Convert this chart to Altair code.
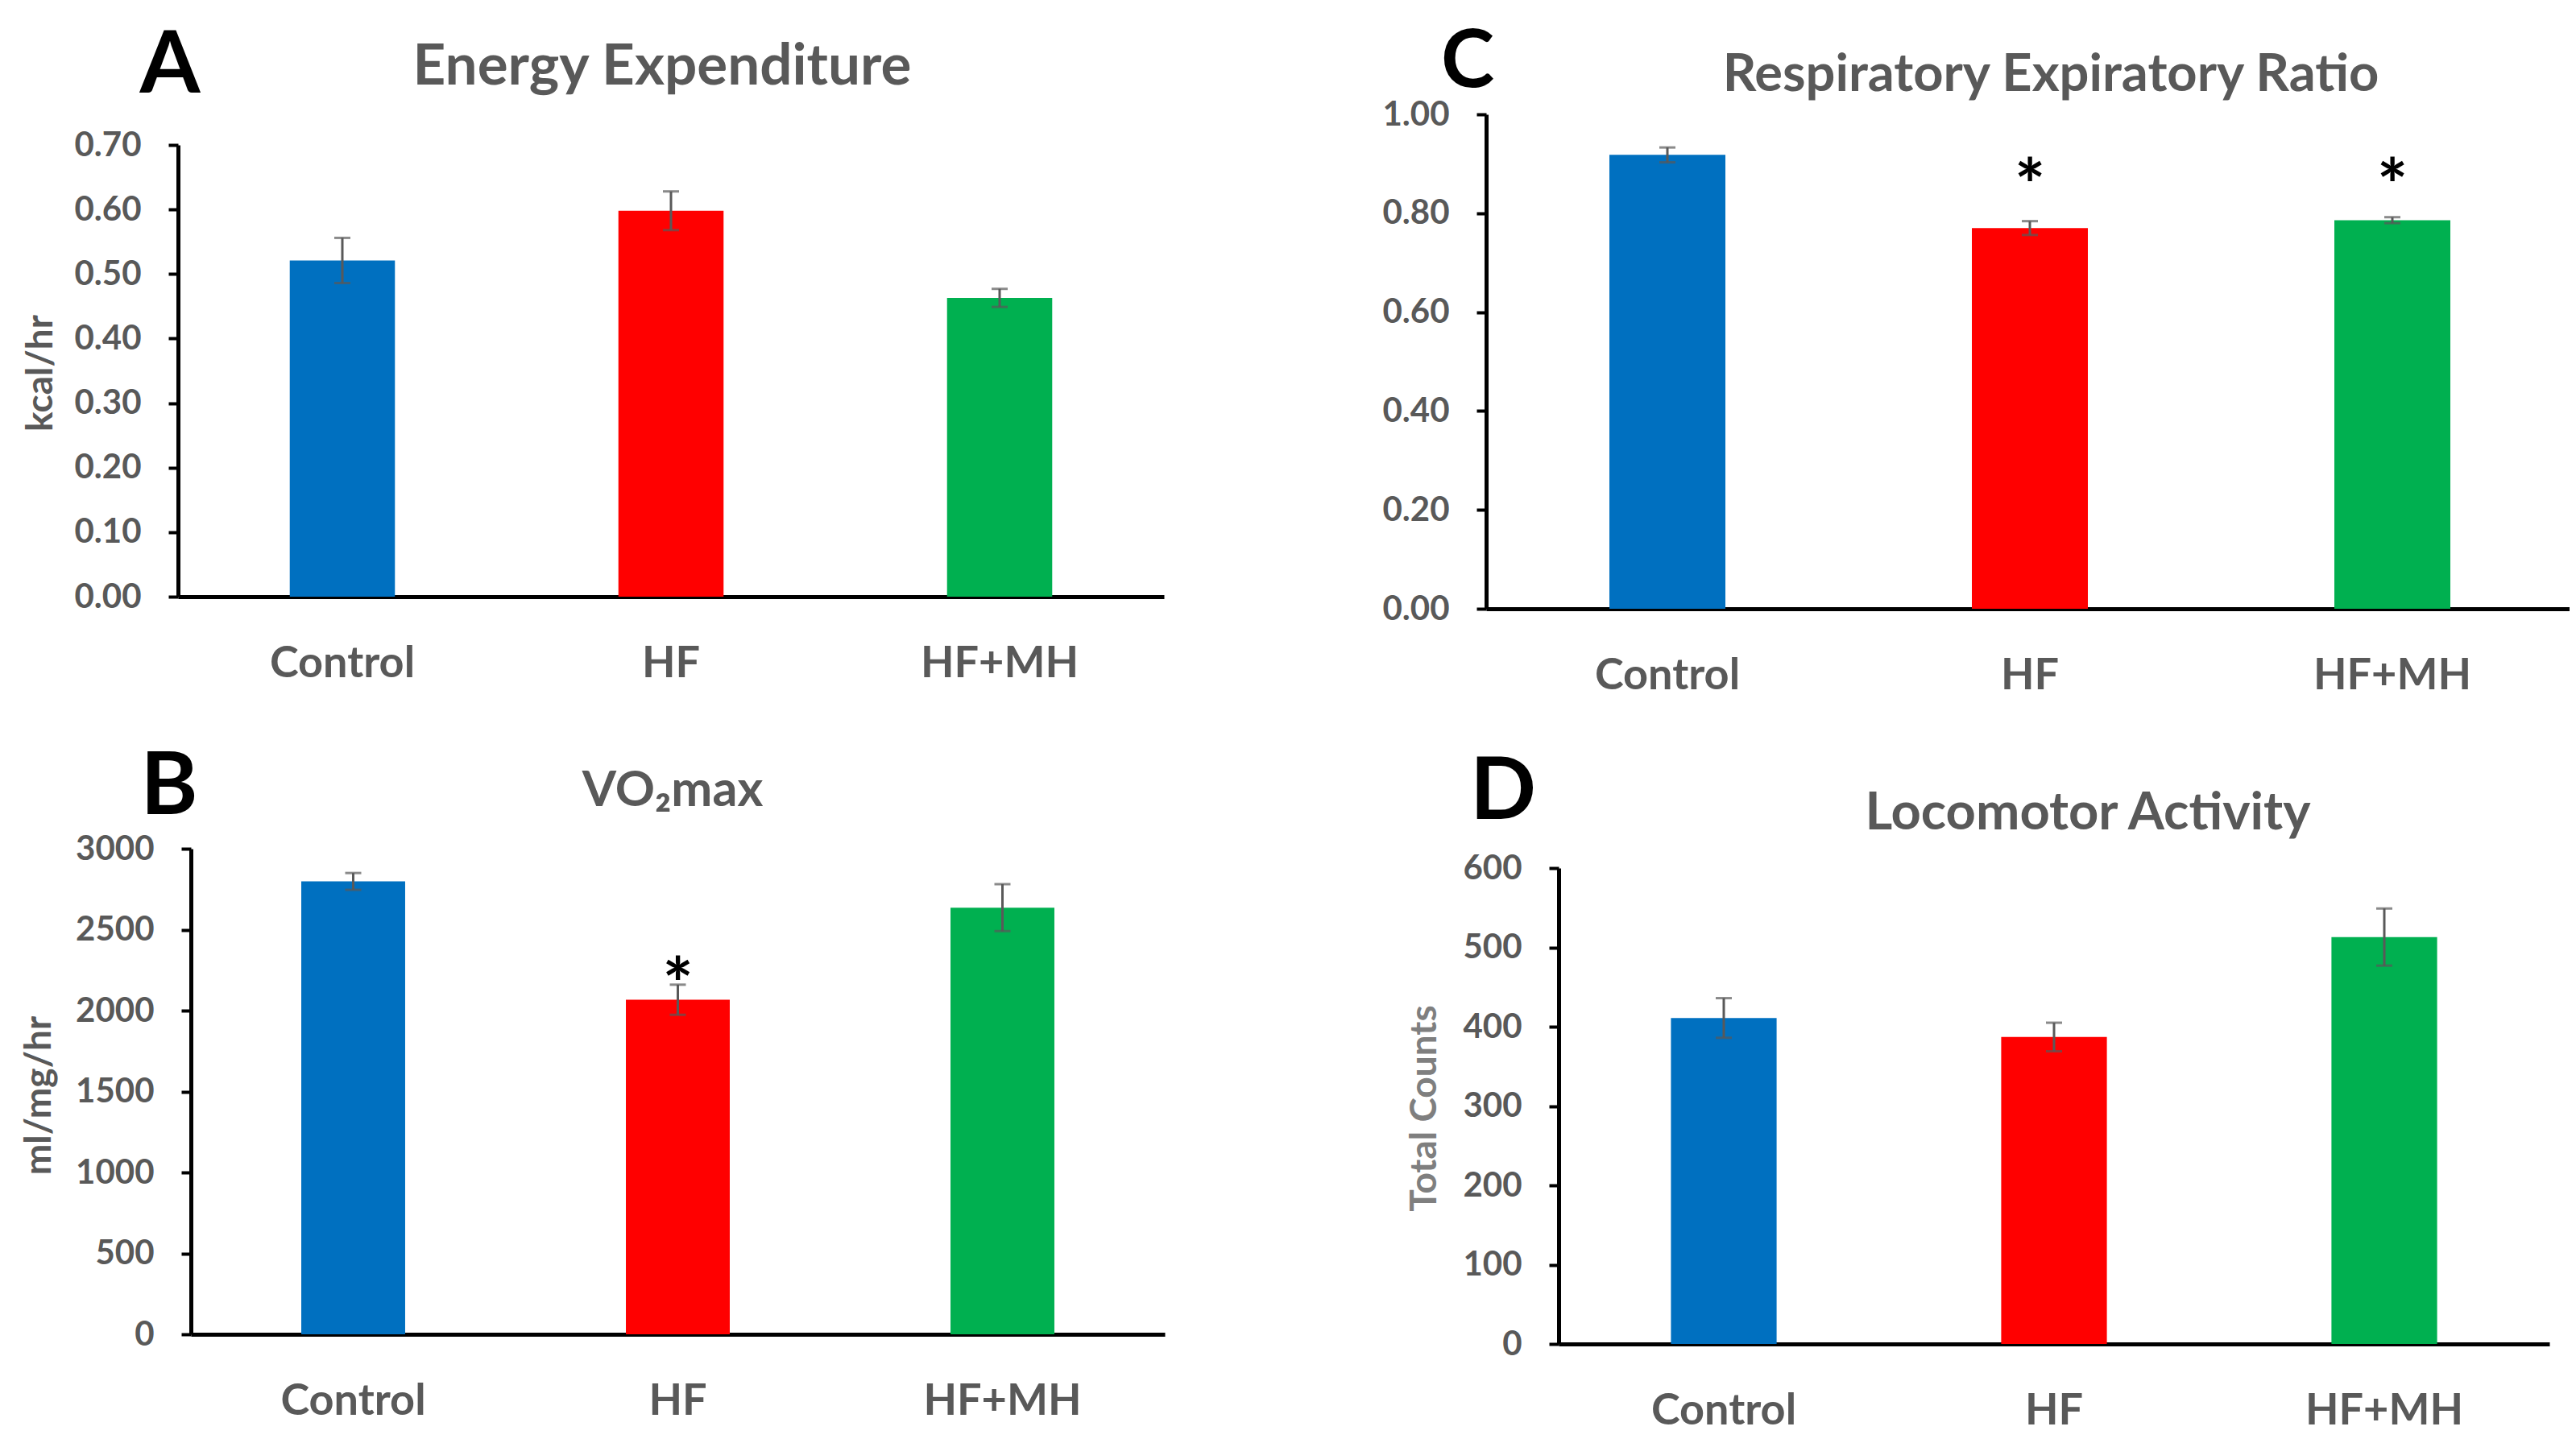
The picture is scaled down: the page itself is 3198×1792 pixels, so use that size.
import altair as alt
import pandas as pd

cats = ["Control", "HF", "HF+MH"]
colors = ["#0070C0", "#FF0000", "#00B050"]

# Panel A: Energy Expenditure (kcal/hr)
ee_mean = [0.521, 0.598, 0.463]
ee_err = [0.035, 0.030, 0.014]
ee_ticks = [0.0, 0.1, 0.2, 0.3, 0.4, 0.5, 0.6, 0.7]
# Panel B: VO2max (ml/mg/hr)
vo2_mean = [2798, 2067, 2636]
vo2_err = [52, 93, 145]
vo2_star = [None, 2249, None]
vo2_ticks = [0, 500, 1000, 1500, 2000, 2500, 3000]
# Panel C: Respiratory Expiratory Ratio
rer_mean = [0.918, 0.770, 0.786]
rer_err = [0.015, 0.014, 0.006]
rer_star = [None, 0.884, 0.884]
rer_ticks = [0.0, 0.2, 0.4, 0.6, 0.8, 1.0]
# Panel D: Locomotor Activity (Total Counts)
loco_mean = [411, 387, 513]
loco_err = [25, 18, 36]
loco_ticks = [0, 100, 200, 300, 400, 500, 600]

W, H = 3182, 1776
GRAY = "#595959"
FONT = "Lato"


def panel(mean, err, stars, ticks, fmt, xr, yr, ytitle, tx, ty, tcolor):
    df = pd.DataFrame({
        "cat": cats,
        "v": mean,
        "lo": [m - e for m, e in zip(mean, err)],
        "hi": [m + e for m, e in zip(mean, err)],
    })
    xs = alt.Scale(domain=cats, range=list(xr), paddingInner=0.68, paddingOuter=0.34)
    ys = alt.Scale(domain=[ticks[0], ticks[-1]], range=list(yr), nice=False)
    axx = alt.Axis(orient="bottom", offset=yr[0] - H, ticks=False, grid=False,
                   domainColor="black", domainWidth=5, labelPadding=56,
                   labelFont=FONT, labelFontSize=54, labelFontWeight="bold",
                   labelColor=GRAY, labelAngle=0, labelLimit=0)
    yax_kw = dict(orient="left", offset=-xr[0], values=ticks, format=fmt, grid=False,
                  domainColor="black", domainWidth=5, tickColor="black", tickWidth=4,
                  tickSize=12, labelPadding=34, labelFont=FONT, labelFontSize=42,
                  labelFontWeight="bold", labelColor=GRAY, labelLimit=0)
    if ytitle:
        yax_kw.update(titleX=tx, titleY=ty, titleAngle=-90, titleAlign="center",
                      titleBaseline="middle", titleFont=FONT, titleFontSize=46,
                      titleFontWeight="bold", titleColor=tcolor)
    axy = alt.Axis(**yax_kw)
    X = alt.X("cat:N", scale=xs, axis=axx, title="", sort=cats)
    color = alt.Color("cat:N", scale=alt.Scale(domain=cats, range=colors), legend=None)
    base = alt.Chart(df)
    bars = base.mark_bar().encode(x=X, y=alt.Y("v:Q", scale=ys, axis=axy, title=ytitle), color=color)
    rule = base.mark_rule(color=GRAY, strokeWidth=3).encode(
        x=X, y=alt.Y("lo:Q", scale=ys, axis=axy, title=ytitle), y2="hi:Q")
    cap_hi = base.mark_tick(color=GRAY, size=20, thickness=3).encode(
        x=X, y=alt.Y("hi:Q", scale=ys, axis=axy, title=ytitle))
    cap_lo = base.mark_tick(color=GRAY, size=20, thickness=3).encode(
        x=X, y=alt.Y("lo:Q", scale=ys, axis=axy, title=ytitle))
    layers = [bars, rule, cap_hi, cap_lo]
    if stars is not None:
        sdf = pd.DataFrame({"cat": [c for c, s in zip(cats, stars) if s is not None],
                            "s": [s for s in stars if s is not None]})
        st = alt.Chart(sdf).mark_text(text="*", font=FONT, fontSize=90, fontWeight="bold",
                                      color="black", baseline="alphabetic", dy=50).encode(
            x=X, y=alt.Y("s:Q", scale=ys, axis=axy, title=ytitle))
        layers.append(st)
    return alt.layer(*layers)


pA = panel(ee_mean, ee_err, None, ee_ticks, ".2f", (213, 1437), (733, 172),
           "kcal/hr", -171, 455, GRAY)
pB = panel(vo2_mean, vo2_err, vo2_star, vo2_ticks, "d", (229, 1438), (1649, 1046),
           "ml/mg/hr", -189, 1352, GRAY)
pC = panel(rer_mean, rer_err, rer_star, rer_ticks, ".2f", (1837, 3187), (748, 134),
           "", 0, 0, GRAY)
pD = panel(loco_mean, loco_err, None, loco_ticks, "d", (1927, 3157), (1661, 1070),
           "Total Counts", -167, 1368, "#7F7F7F")

titles = ["Energy Expenditure", "VO₂max", "Respiratory Expiratory Ratio", "Locomotor Activity"]
title_x = [814, 827, 2538, 2584]
title_y = [97, 993, 105, 1022]
title_size = [71, 61, 65, 65]
letters = ["A", "B", "C", "D"]
letter_x = [203, 202, 1814, 1858]
letter_y = [107, 1003, 100, 1009]
letter_size = [108, 108, 100, 108]

texts = []
for t, x, y, s in zip(titles, title_x, title_y, title_size):
    texts.append(alt.Chart(pd.DataFrame({"t": [t]})).mark_text(
        font=FONT, fontSize=s, fontWeight="bold", color=GRAY, align="center",
        baseline="alphabetic").encode(text="t:N", x=alt.value(x), y=alt.value(y)))
for t, x, y, s in zip(letters, letter_x, letter_y, letter_size):
    texts.append(alt.Chart(pd.DataFrame({"t": [t]})).mark_text(
        font=FONT, fontSize=s, fontWeight="bold", color="black", align="center",
        baseline="alphabetic").encode(text="t:N", x=alt.value(x), y=alt.value(y)))

chart = alt.layer(pA, pB, pC, pD, *texts).resolve_scale(
    x="independent", y="independent", color="shared"
).properties(width=W, height=H, padding=0, autosize="none").configure_view(strokeWidth=0)

chart.save("out.html", embed_options={"renderer": "svg", "actions": False})
